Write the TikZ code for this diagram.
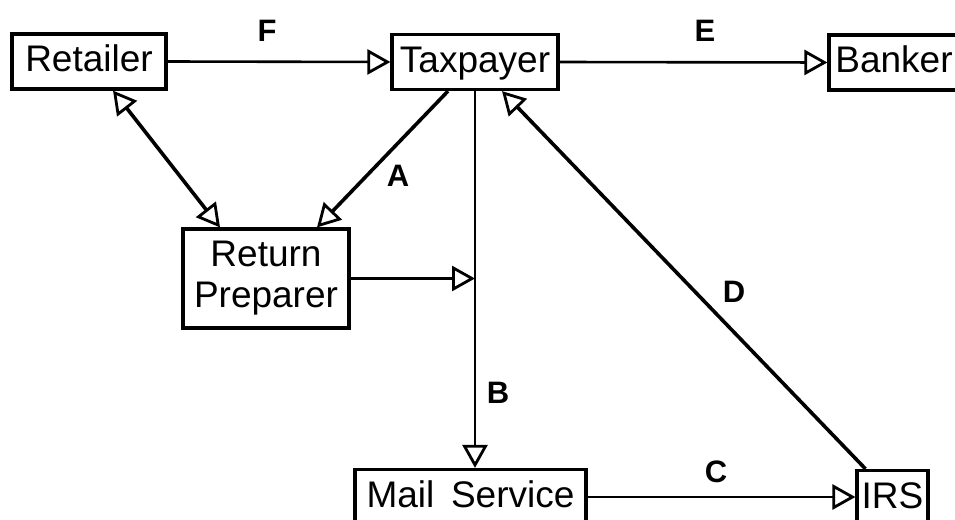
\documentclass[tikz,border=0pt]{standalone}
\usepackage{fontspec}
\setmainfont{Liberation Sans}
\usetikzlibrary{arrows.meta}

\tikzset{
  boxed/.style={draw=black, line width=3.2pt, fill=white, inner sep=0pt,
    minimum height=55pt, font=\fontsize{37}{41}\selectfont, align=center},
  party/.style={boxed, text height=27pt, text depth=7pt},
  opentip/.tip={Triangle[open, length=23pt, width=25pt, line width=2.8pt]},
  flow/.style={draw=black, line width=2.6pt, -opentip},
  slant/.style={flow, line width=3.6pt},
  both/.style={draw=black, line width=3.6pt, opentip-opentip},
  tag/.style={font=\fontsize{31}{33}\selectfont\bfseries, inner sep=0pt}
}

\begin{document}
\begin{tikzpicture}[x=1pt, y=-1pt]
  \useasboundingbox (0,0) rectangle (955,519);
  \clip (0,0) rectangle (955,519);

  % parties
  \node[party, minimum width=154pt] (ret)  at (89,61.5)    {Retailer};
  \node[party, minimum width=166pt] (tax)  at (475,62)     {Taxpayer};
  \node[party, minimum width=130pt] (bank) at (894,62.5)   {Banker};
  \node[boxed, minimum width=166pt, minimum height=99pt] (prep) at (266,278.5) {Return\\Preparer};
  \node[party, minimum width=231pt] (mail) at (470.5,497)  {Mail\hspace{0.45em}Service};
  \node[party, minimum width=71pt]  (irs)  at (892.5,498)  {IRS};

  % flows between parties
  \draw[flow] (ret.east) -- (tax.west);
  \draw[flow] (tax.east) -- (bank.west);
  \draw[both] ([xshift=24pt]ret.south) -- ([xshift=-46pt]prep.north);
  \draw[slant] ([xshift=-27pt]tax.south) -- ([xshift=51pt]prep.north);
  \draw[flow] (tax.south) -- (tax.south |- mail.north);
  \draw[flow] (prep.east) -- (prep.east -| tax.south);
  \draw[slant] ([xshift=-27pt]irs.north) -- ([xshift=27pt]tax.south);
  \draw[flow] (mail.east) -- (mail.east -| irs.west);

  % flow labels
  \node[tag] (lf) at (267,31)  {F};
  \node[tag] (le) at (705,31)  {E};
  \node[tag] (la) at (398,176) {A};
  \node[tag] (lb) at (498,393) {B};
  \node[tag] (lc) at (716,472) {C};
  \node[tag] (ld) at (734,292) {D};
\end{tikzpicture}
\end{document}
